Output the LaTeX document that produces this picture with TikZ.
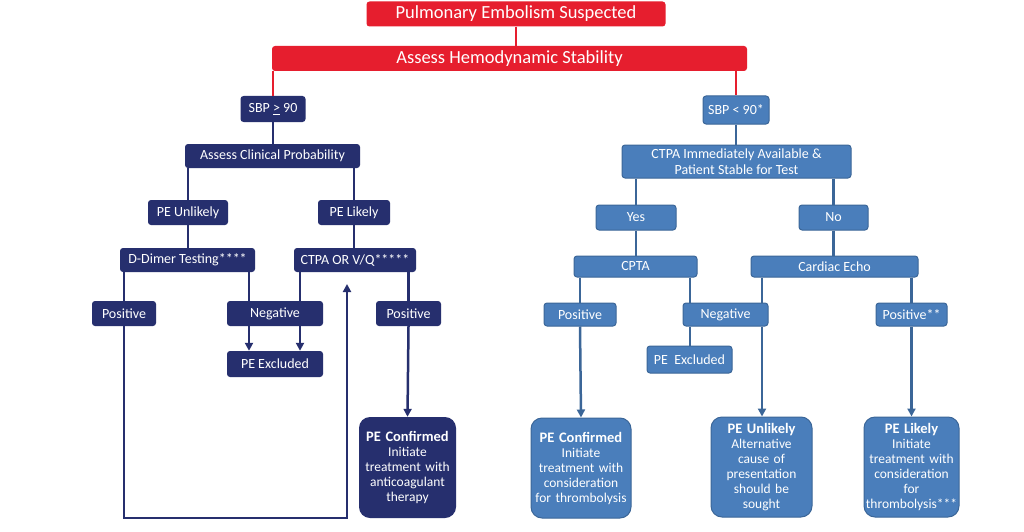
\documentclass[tikz,border=0pt]{standalone}
\usepackage{fontspec}
\setmainfont{Carlito}
\usetikzlibrary{arrows.meta,calc}
\definecolor{pered}{HTML}{E61E2E}
\definecolor{penavy}{HTML}{262F6E}
\definecolor{peblue}{HTML}{4A7EBB}
\definecolor{peblueline}{HTML}{3B6698}
\tikzset{redbox/.style={fill=pered,text=white,rounded corners=3pt,inner sep=0pt,minimum height=25pt,font=\fontsize{18.5}{21}\selectfont},navybox/.style={fill=penavy,text=white,rounded corners=3pt,inner sep=0pt,minimum height=25pt,font=\fontsize{14}{15}\selectfont},bluebox/.style={fill=peblue,draw=peblueline,line width=1pt,text=white,rounded corners=3pt,inner sep=0pt,minimum height=23pt,font=\fontsize{14}{15}\selectfont},navyend/.style={navybox,rounded corners=11pt,align=center,minimum height=101pt,font=\fontsize{13.5}{15}\selectfont},blueend/.style={bluebox,rounded corners=11pt,align=center,minimum height=100pt,font=\fontsize{13.5}{15}\selectfont},redline/.style={draw=pered,line width=2.5pt},navyline/.style={draw=penavy,line width=2.5pt},blueline/.style={draw=peblueline,line width=2.5pt},navyflow/.style={navyline,-{Triangle[length=8pt,width=8pt]}},blueflow/.style={blueline,-{Triangle[length=8pt,width=8pt]}}}
\newcommand{\resulthead}[1]{{\bfseries\fontsize{14.5}{16}\selectfont #1}}
\begin{document}
\begin{tikzpicture}[x=1pt,y=-1pt]
\useasboundingbox[fill=white] (0,0) rectangle (1024,532);
\node[redbox,minimum width=299pt] (suspected) at (516,14) {Pulmonary Embolism Suspected};
\node[redbox,minimum width=475pt] (stability) at (509.5,58.5) {Assess Hemodynamic Stability};
\draw[redline] (suspected.south) -- (suspected.south |- stability.north);
% stable side
\node[navybox,minimum width=65pt,minimum height=26pt] (sbphigh) at (273,109) {SBP \underline{>} 90};
\node[navybox,minimum width=175pt,minimum height=24pt] (clinical) at (272.5,156) {Assess Clinical Probability};
\node[navybox,minimum width=80pt] (unlikely) at (188,212.5) {PE Unlikely};
\node[navybox,minimum width=72pt] (likely) at (354,212.5) {PE Likely};
\node[navybox,minimum width=135pt,minimum height=24pt] (ddimer) at (187.5,260) {D-Dimer Testing****};
\node[navybox,minimum width=122pt,minimum height=24pt] (ctpavq) at (355,260) {CTPA OR V/Q*****};
\node[navybox,minimum width=64pt] (posleft) at (124,313.5) {Positive};
\node[navybox,minimum width=96pt] (negleft) at (275,313.5) {Negative};
\node[navybox,minimum width=65pt] (posmid) at (408.5,313.5) {Positive};
\node[navybox,minimum width=96pt,minimum height=26pt] (excludedleft) at (275,364) {PE Excluded};
\node[navyend,minimum width=97pt,text width=94pt] (confirmedleft) at (407.5,467.5) {\resulthead{PE Confirmed}\\Initiate\\treatment with\\anticoagulant\\therapy};
\coordinate (negwest) at (249,0);
\coordinate (negeast) at (300,0);
\coordinate (loopup) at (347,284);
\draw[redline] (stability.south -| sbphigh) -- (sbphigh.north);
\draw[navyline] (sbphigh.south) -- (sbphigh.south |- clinical.north);
\draw[navyline] (clinical.south -| unlikely) -- (unlikely.north);
\draw[navyline] (clinical.south -| likely) -- (likely.north);
\draw[navyline] (unlikely.south) -- (unlikely.south |- ddimer.north);
\draw[navyline] (likely.south) -- (likely.south |- ctpavq.north);
\draw[navyline] (ddimer.south -| posleft) -- (posleft.north);
\draw[navyline] (ddimer.south -| negwest) -- (negleft.north -| negwest);
\draw[navyline] (ctpavq.south -| negeast) -- (negleft.north -| negeast);
\draw[navyline] (ctpavq.south -| posmid) -- (posmid.north);
\draw[navyflow] (negleft.south -| negwest) -- (excludedleft.north -| negwest);
\draw[navyflow] (negleft.south -| negeast) -- (excludedleft.north -| negeast);
\draw[navyflow] (posmid.south) -- (confirmedleft.north);
\draw[navyflow] (posleft.south) |- (loopup |- confirmedleft.south) -- (loopup);
% unstable side
\node[bluebox,minimum width=66pt,minimum height=28pt] (sbplow) at (736,110) {SBP < 90*};
\node[bluebox,minimum width=229pt,minimum height=33pt,align=center,font=\fontsize{14}{16.5}\selectfont] (ctpa) at (736.5,161.5) {CTPA Immediately Available \&\\Patient Stable for Test};
\node[bluebox,minimum width=80pt,minimum height=25pt] (yes) at (636,217.5) {Yes};
\node[bluebox,minimum width=69pt,minimum height=25pt] (no) at (833.5,217.5) {No};
\node[bluebox,minimum width=123pt,minimum height=21pt] (cpta) at (635.5,266.5) {CPTA};
\node[bluebox,minimum width=167pt,minimum height=21pt] (echo) at (834.5,266.5) {Cardiac Echo};
\node[bluebox,minimum width=72pt] (posright) at (580,314.5) {Positive};
\node[bluebox,minimum width=85pt] (negright) at (725.5,314.5) {Negative};
\node[bluebox,minimum width=71pt] (posstar) at (911.5,314.5) {Positive**};
\node[bluebox,minimum width=85pt,minimum height=27pt] (excludedright) at (689.5,359.5) {PE\ \ Excluded};
\node[blueend,minimum width=100pt,text width=98pt] (confirmedright) at (581,468) {\resulthead{PE Confirmed}\\Initiate\\treatment with\\consideration\\for thrombolysis};
\node[blueend,minimum width=101pt,text width=98pt] (unlikelyright) at (761.5,467) {\resulthead{PE Unlikely}\\Alternative\\cause of\\presentation\\should be\\sought};
\node[blueend,minimum width=95pt,text width=93pt] (likelyright) at (911.5,467) {\resulthead{PE Likely}\\Initiate\\treatment with\\consideration\\for\\thrombolysis***};
\coordinate (negrwest) at (690,0);
\coordinate (negreast) at (762,0);
\draw[redline] (stability.south -| sbplow) -- (sbplow.north);
\draw[blueline] (sbplow.south) -- (sbplow.south |- ctpa.north);
\draw[blueline] (ctpa.south -| yes) -- (yes.north);
\draw[blueline] (ctpa.south -| no) -- (no.north);
\draw[blueline] (yes.south) -- (yes.south |- cpta.north);
\draw[blueline] (no.south) -- (no.south |- echo.north);
\draw[blueline] (cpta.south -| posright) -- (posright.north);
\draw[blueline] (cpta.south -| negrwest) -- (negright.north -| negrwest);
\draw[blueline] (echo.south -| negreast) -- (negright.north -| negreast);
\draw[blueline] (echo.south -| posstar) -- (posstar.north);
\draw[blueline] (negright.south -| negrwest) -- (excludedright.north -| negrwest);
\draw[blueflow] (posright.south) -- (confirmedright.north);
\draw[blueflow] (negright.south -| negreast) -- (unlikelyright.north -| negreast);
\draw[blueflow] (posstar.south) -- (likelyright.north);
\end{tikzpicture}
\end{document}
